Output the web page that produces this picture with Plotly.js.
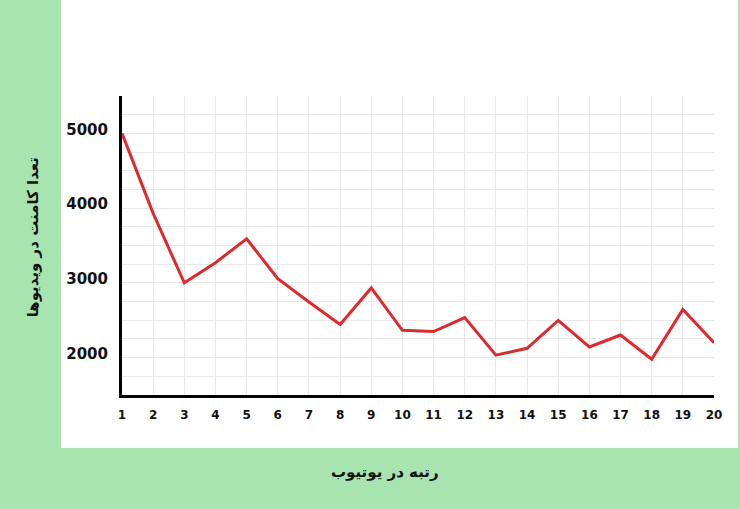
<!DOCTYPE html>
<html>
<head>
<meta charset="utf-8">
<script src="https://cdn.plot.ly/plotly-3.0.1.min.js"></script>
<style>html,body{margin:0;padding:0;background:#a8e4b0;}#chart{width:740px;height:509px;}</style>
</head>
<body>
<div id="chart"></div>
<script>
const ranks = [1,2,3,4,5,6,7,8,9,10,11,12,13,14,15,16,17,18,19,20];
const comments = [5000,3930,3000,3270,3590,3055,2745,2445,2932,2366,2348,2535,2033,2125,2498,2142,2302,1978,2645,2200];
const yTickVals = [2000,3000,4000,5000];
const yTitle = "تعدا کامنت در ویدیوها";
const xTitle = "رتبه در یوتیوب";

const trace = {
  x: ranks, y: comments, type: 'scatter', mode: 'lines',
  line: {color: '#dc2a2e', width: 3}, hoverinfo: 'skip'
};

const layout = {
  width: 740, height: 509,
  margin: {l: 122, r: 26, t: 96, b: 114},
  paper_bgcolor: '#a8e4b0',
  plot_bgcolor: '#ffffff',
  showlegend: false,
  font: {family: 'DejaVu Sans', color: '#111'},
  xaxis: {
    range: [1, 20], tickmode: 'array', tickvals: ranks, ticktext: ranks.map(String),
    showgrid: true, gridcolor: '#e8e8e8', gridwidth: 1,
    zeroline: false, showline: true, linecolor: '#000', linewidth: 3,
    ticks: '', ticklabelstandoff: 7,
    tickfont: {family: 'DejaVu Sans', size: 12, weight: 'bold', color: '#111'}
  },
  yaxis: {
    range: [1500, 5500], tickmode: 'array', tickvals: yTickVals, ticktext: yTickVals.map(String),
    showgrid: true, gridcolor: '#e8e8e8', gridwidth: 1,
    minor: {dtick: 250, tick0: 1500, showgrid: true, gridcolor: '#e8e8e8', gridwidth: 1},
    zeroline: false, showline: true, linecolor: '#000', linewidth: 3,
    ticks: '', ticklabelstandoff: 8, ticklabelshift: -4,
    tickfont: {family: 'DejaVu Sans', size: 15, weight: 'bold', color: '#111'}
  },
  shapes: [{
    type: 'rect', xref: 'paper', yref: 'paper', layer: 'below',
    x0: -0.103, x1: 1.0405, y0: -0.177, y1: 1.33,
    fillcolor: '#ffffff', line: {width: 0}
  }],
  annotations: [
    {text: yTitle, xref: 'paper', yref: 'paper', x: -0.150, y: 0.528,
     textangle: -90, showarrow: false, xanchor: 'center', yanchor: 'middle',
     font: {family: 'DejaVu Sans', size: 15, weight: 'bold', color: '#111'}},
    {text: xTitle, xref: 'paper', yref: 'paper', x: 0.444, y: -0.2575,
     showarrow: false, xanchor: 'center', yanchor: 'middle',
     font: {family: 'DejaVu Sans', size: 15, weight: 'bold', color: '#111'}}
  ]
};

Plotly.newPlot('chart', [trace], layout, {displayModeBar: false, staticPlot: true});
</script>
</body>
</html>
